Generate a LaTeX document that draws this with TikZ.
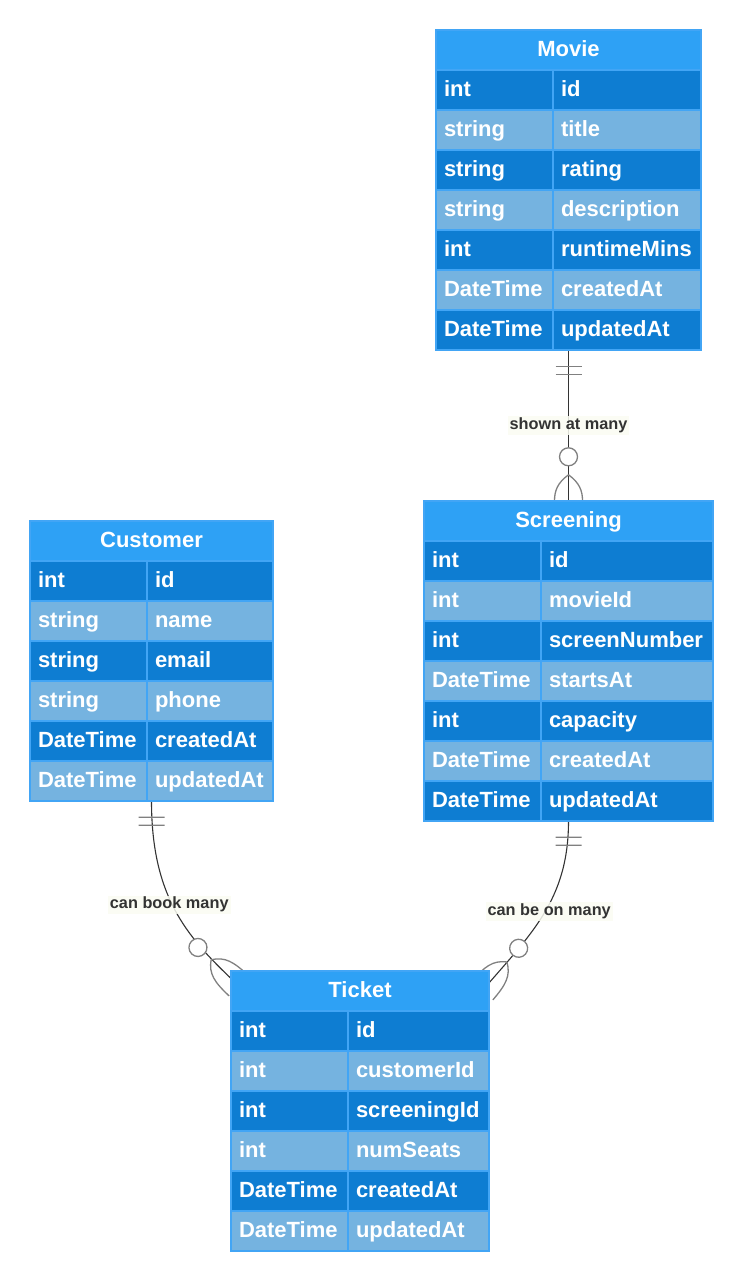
\documentclass[tikz,border=0pt]{standalone}
\usepackage{fontspec}
\setmainfont{Liberation Sans}
\usepackage{xcolor}
\usepackage{tikz}
\usetikzlibrary{calc}
\usetikzlibrary{fit}
\usetikzlibrary{positioning}
\usetikzlibrary{decorations.markings}

\definecolor{enthead}{RGB}{46,161,245}
\definecolor{rowdark}{RGB}{14,125,210}
\definecolor{rowlight}{RGB}{117,179,224}
\definecolor{entline}{RGB}{66,165,245}
\definecolor{relline}{RGB}{51,51,51}
\definecolor{markline}{RGB}{128,128,128}
\definecolor{lblbg}{RGB}{250,252,242}

\newcommand{\tblfont}{\fontsize{22}{25}\selectfont\bfseries}
\newcommand{\lblfont}{\fontsize{16.3}{18}\selectfont\bfseries}

\pgfdeclarelayer{bg}
\pgfsetlayers{bg,main}

\tikzset{
  ent head/.style={rectangle,draw=entline,line width=1.2pt,fill=enthead,text=white,font=\tblfont,minimum height=40pt,inner sep=0pt,outer sep=0pt,text height=16pt,text depth=3pt,anchor=north west},
  cell/.style={rectangle,draw=entline,line width=1.2pt,text=white,font=\tblfont,minimum height=40pt,inner xsep=8pt,inner ysep=0pt,outer sep=0pt,text height=16pt,text depth=3pt,align=left,text width=#1},
  cell/.default=101pt,
  dark row/.style={fill=rowdark},
  light row/.style={fill=rowlight},
  marker/.style={draw=markline,line width=1.3pt},
  rel/.style={draw=relline,line width=1.1pt},
  rel label/.style={fill=lblbg,fill opacity=0.85,text opacity=1,text=relline,font=\lblfont,inner xsep=2pt,inner ysep=1.5pt},
  er one/.style={postaction={decorate,decoration={markings,mark=at position 0 with {\draw[marker] (16pt,-13pt) -- (16pt,13pt) (24pt,-13pt) -- (24pt,13pt);}}}},
  er many/.style={postaction={decorate,decoration={markings,mark=at position 0.9999 with {\draw[marker,fill=white] (-44pt,0pt) circle (9pt); \draw[marker] (-26pt,0pt) .. controls (-18pt,11pt) and (-10pt,14pt) .. (0pt,14pt) (-26pt,0pt) .. controls (-18pt,-11pt) and (-10pt,-14pt) .. (0pt,-14pt);}}}},
  er many deep/.style={postaction={decorate,decoration={markings,mark=at position 0.9999 with {\draw[marker,fill=white] (-56pt,0pt) circle (9pt); \draw[marker] (-38pt,0pt) .. controls (-30pt,12pt) and (-20pt,14pt) .. (0pt,14pt) (-38pt,0pt) .. controls (-30pt,-12pt) and (-20pt,-14pt) .. (0pt,-14pt);}}}}
}

\begin{document}
\begin{tikzpicture}[x=1pt,y=-1pt]

    \useasboundingbox (0,0) rectangle (743,1284);

    % Movie
    \node[ent head,minimum width=265pt] (movie-h) at (436,30) {Movie};
    \node[cell,dark row,anchor=north west] (movie-t1) at (movie-h.south west) {int};
    \node[cell=132pt,dark row,right=0pt of movie-t1] (movie-n1) {id};
    \node[cell,light row,below=0pt of movie-t1] (movie-t2) {string};
    \node[cell=132pt,light row,right=0pt of movie-t2] (movie-n2) {title};
    \node[cell,dark row,below=0pt of movie-t2] (movie-t3) {string};
    \node[cell=132pt,dark row,right=0pt of movie-t3] (movie-n3) {rating};
    \node[cell,light row,below=0pt of movie-t3] (movie-t4) {string};
    \node[cell=132pt,light row,right=0pt of movie-t4] (movie-n4) {description};
    \node[cell,dark row,below=0pt of movie-t4] (movie-t5) {int};
    \node[cell=132pt,dark row,right=0pt of movie-t5] (movie-n5) {runtimeMins};
    \node[cell,light row,below=0pt of movie-t5] (movie-t6) {DateTime};
    \node[cell=132pt,light row,right=0pt of movie-t6] (movie-n6) {createdAt};
    \node[cell,dark row,below=0pt of movie-t6] (movie-t7) {DateTime};
    \node[cell=132pt,dark row,right=0pt of movie-t7] (movie-n7) {updatedAt};
    \node[fit=(movie-h)(movie-t7)(movie-n7),inner sep=0pt] (movie) {};

    % Screening
    \node[ent head,minimum width=289pt] (screening-h) at (424,501) {Screening};
    \node[cell,dark row,anchor=north west] (screening-t1) at (screening-h.south west) {int};
    \node[cell=156pt,dark row,right=0pt of screening-t1] (screening-n1) {id};
    \node[cell,light row,below=0pt of screening-t1] (screening-t2) {int};
    \node[cell=156pt,light row,right=0pt of screening-t2] (screening-n2) {movieId};
    \node[cell,dark row,below=0pt of screening-t2] (screening-t3) {int};
    \node[cell=156pt,dark row,right=0pt of screening-t3] (screening-n3) {screenNumber};
    \node[cell,light row,below=0pt of screening-t3] (screening-t4) {DateTime};
    \node[cell=156pt,light row,right=0pt of screening-t4] (screening-n4) {startsAt};
    \node[cell,dark row,below=0pt of screening-t4] (screening-t5) {int};
    \node[cell=156pt,dark row,right=0pt of screening-t5] (screening-n5) {capacity};
    \node[cell,light row,below=0pt of screening-t5] (screening-t6) {DateTime};
    \node[cell=156pt,light row,right=0pt of screening-t6] (screening-n6) {createdAt};
    \node[cell,dark row,below=0pt of screening-t6] (screening-t7) {DateTime};
    \node[cell=156pt,dark row,right=0pt of screening-t7] (screening-n7) {updatedAt};
    \node[fit=(screening-h)(screening-t7)(screening-n7),inner sep=0pt] (screening) {};

    % Customer
    \node[ent head,minimum width=243pt] (customer-h) at (30,521) {Customer};
    \node[cell,dark row,anchor=north west] (customer-t1) at (customer-h.south west) {int};
    \node[cell=110pt,dark row,right=0pt of customer-t1] (customer-n1) {id};
    \node[cell,light row,below=0pt of customer-t1] (customer-t2) {string};
    \node[cell=110pt,light row,right=0pt of customer-t2] (customer-n2) {name};
    \node[cell,dark row,below=0pt of customer-t2] (customer-t3) {string};
    \node[cell=110pt,dark row,right=0pt of customer-t3] (customer-n3) {email};
    \node[cell,light row,below=0pt of customer-t3] (customer-t4) {string};
    \node[cell=110pt,light row,right=0pt of customer-t4] (customer-n4) {phone};
    \node[cell,dark row,below=0pt of customer-t4] (customer-t5) {DateTime};
    \node[cell=110pt,dark row,right=0pt of customer-t5] (customer-n5) {createdAt};
    \node[cell,light row,below=0pt of customer-t5] (customer-t6) {DateTime};
    \node[cell=110pt,light row,right=0pt of customer-t6] (customer-n6) {updatedAt};
    \node[fit=(customer-h)(customer-t6)(customer-n6),inner sep=0pt] (customer) {};

    % Ticket
    \node[ent head,minimum width=258pt] (ticket-h) at (231,971) {Ticket};
    \node[cell,dark row,anchor=north west] (ticket-t1) at (ticket-h.south west) {int};
    \node[cell=125pt,dark row,right=0pt of ticket-t1] (ticket-n1) {id};
    \node[cell,light row,below=0pt of ticket-t1] (ticket-t2) {int};
    \node[cell=125pt,light row,right=0pt of ticket-t2] (ticket-n2) {customerId};
    \node[cell,dark row,below=0pt of ticket-t2] (ticket-t3) {int};
    \node[cell=125pt,dark row,right=0pt of ticket-t3] (ticket-n3) {screeningId};
    \node[cell,light row,below=0pt of ticket-t3] (ticket-t4) {int};
    \node[cell=125pt,light row,right=0pt of ticket-t4] (ticket-n4) {numSeats};
    \node[cell,dark row,below=0pt of ticket-t4] (ticket-t5) {DateTime};
    \node[cell=125pt,dark row,right=0pt of ticket-t5] (ticket-n5) {createdAt};
    \node[cell,light row,below=0pt of ticket-t5] (ticket-t6) {DateTime};
    \node[cell=125pt,light row,right=0pt of ticket-t6] (ticket-n6) {updatedAt};
    \node[fit=(ticket-h)(ticket-t6)(ticket-n6),inner sep=0pt] (ticket) {};

    \coordinate (ticket-in-l) at ([xshift=8pt,yshift=-15pt]ticket.north west);
    \coordinate (ticket-in-r) at ([xshift=-7pt,yshift=-20pt]ticket.north east);

    \begin{pgfonlayer}{bg}
    \path[rel,er one,er many]
    (movie.south)
    -- node[rel label] {shown at many}
    (screening.north);

    \path[rel,er one,er many deep]
    (customer.south)
    .. controls ($ (customer.south) + (0,99) $) and ($ (ticket-in-l) + (-49,-46) $) ..
    (ticket-in-l) node[rel label,pos=0.45,xshift=-3pt] {can book many};

    \path[rel,er one,er many deep]
    (screening.south)
    .. controls ($ (screening.south) + (0,79) $) and ($ (ticket-in-r) + (48,-56) $) ..
    (ticket-in-r) node[rel label,pos=0.48,xshift=4pt] {can be on many};
    \end{pgfonlayer}

\end{tikzpicture}
\end{document}
